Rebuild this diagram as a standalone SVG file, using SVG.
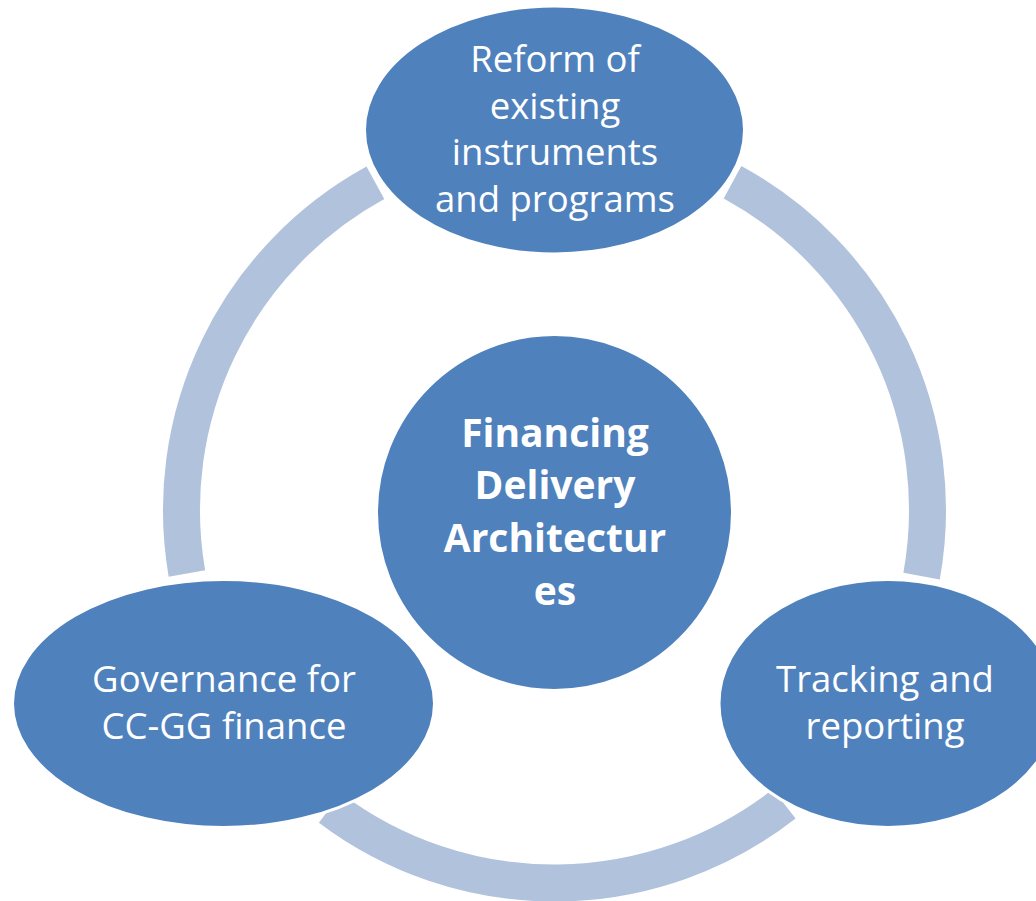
<svg xmlns="http://www.w3.org/2000/svg" width="1036" height="901" viewBox="0 0 1036 901">
<style>
.ring{fill:none;stroke:#B1C2DD;stroke-width:37;stroke-linecap:butt}
.node{fill:#4F81BD;stroke:#FFFFFF;stroke-width:3}
.lbl{font-family:"Open Sans","Noto Sans",sans-serif;font-size:36.5px;fill:#FFFFFF;text-anchor:middle}
.ctr{font-family:"Open Sans","Noto Sans",sans-serif;font-size:39px;font-weight:bold;fill:#FFFFFF;text-anchor:middle}
</style>
<rect width="1036" height="901" fill="#FFFFFF"/>
<g id="connectors">
<path class="ring" d="M186.9,573.5 A373,373 0 0 1 375.4,182.8"/>
<path class="ring" d="M732.5,182.2 A373,373 0 0 1 921.6,576.1"/>
<path class="ring" d="M784.2,803.9 A373,373 0 0 1 330.0,807.9"/>
</g>
<g id="node-top">
<ellipse class="node" cx="554.5" cy="130" rx="190" ry="124"/>
<text class="lbl" x="555" y="72">Reform of</text>
<text class="lbl" x="555" y="118.5">existing</text>
<text class="lbl" x="555" y="165">instruments</text>
<text class="lbl" x="555" y="212">and programs</text>
</g>
<g id="node-right">
<ellipse class="node" cx="888" cy="703.5" rx="169" ry="124"/>
<text class="lbl" x="885" y="692">Tracking and</text>
<text class="lbl" x="885" y="739">reporting</text>
</g>
<g id="node-left">
<ellipse class="node" cx="223.5" cy="703.5" rx="211" ry="124"/>
<text class="lbl" x="224" y="692">Governance for</text>
<text class="lbl" x="224" y="739">CC-GG finance</text>
</g>
<g id="node-center">
<circle class="node" cx="554.5" cy="512.5" r="178"/>
<text class="ctr" x="555" y="447">Financing</text>
<text class="ctr" x="555" y="499">Delivery</text>
<text class="ctr" x="555" y="552">Architectur</text>
<text class="ctr" x="555" y="605">es</text>
</g>
</svg>
